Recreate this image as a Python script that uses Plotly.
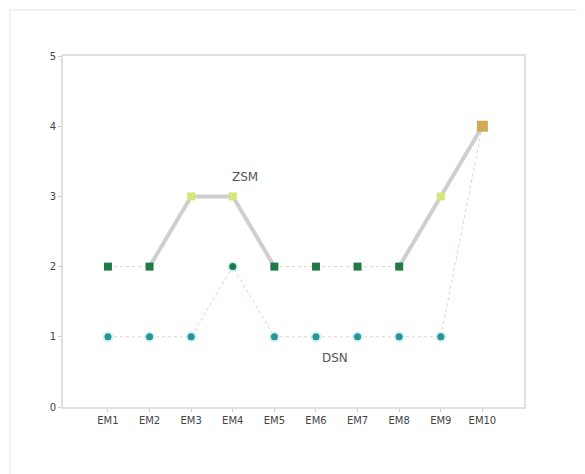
import plotly.graph_objects as go

categories = ["EM1", "EM2", "EM3", "EM4", "EM5", "EM6", "EM7", "EM8", "EM9", "EM10"]
upper_values = [2, 2, 3, 3, 2, 2, 2, 2, 3, 4]
lower_values = [1, 1, 1, 2, 1, 1, 1, 1, 1, 4]
y_ticks = [0, 1, 2, 3, 4, 5]
upper_label = "ZSM"
lower_label = "DSN"

value_colors = {1: "#2b9298", 2: "#217a45", 3: "#d6e77a", 4: "#d2aa55"}

x_idx = list(range(len(categories)))

# thick grey segments where the upper series touches a value >= 3
gray_y = []
for i, v in enumerate(upper_values):
    near = [upper_values[j] for j in (i - 1, i, i + 1) if 0 <= j < len(upper_values)]
    gray_y.append(v if max(near) >= 3 else None)

fig = go.Figure()

fig.add_trace(go.Scatter(
    x=x_idx, y=lower_values, mode="lines",
    line=dict(color="#eec9c9", width=1, dash="dot"),
    hoverinfo="skip", showlegend=False))
fig.add_trace(go.Scatter(
    x=x_idx, y=upper_values, mode="lines",
    line=dict(color="#eec9c9", width=1, dash="dot"),
    hoverinfo="skip", showlegend=False))
fig.add_trace(go.Scatter(
    x=x_idx, y=gray_y, mode="lines", connectgaps=False,
    line=dict(color="#cfcfcf", width=4),
    hoverinfo="skip", showlegend=False))

fig.add_trace(go.Scatter(
    x=x_idx[:-1], y=lower_values[:-1], mode="markers",
    marker=dict(size=11, color="rgba(180,235,240,0.6)", line=dict(width=0)),
    hoverinfo="skip", showlegend=False))
fig.add_trace(go.Scatter(
    x=x_idx[:-1], y=lower_values[:-1], mode="markers",
    marker=dict(size=7, color=[value_colors[v] for v in lower_values[:-1]],
                symbol="circle", line=dict(width=0), opacity=1),
    showlegend=False))

fig.add_trace(go.Scatter(
    x=x_idx, y=upper_values, mode="markers",
    marker=dict(size=[8 if v < 4 else 11 for v in upper_values],
                color=[value_colors[v] for v in upper_values],
                symbol="square", line=dict(width=0), opacity=1),
    showlegend=False))

fig.add_annotation(x=3.3, y=3.27, text=upper_label, showarrow=False,
                   font=dict(size=12, color="#555555", family="DejaVu Sans"))
fig.add_annotation(x=5.45, y=0.7, text=lower_label, showarrow=False,
                   font=dict(size=12, color="#555555", family="DejaVu Sans"))

L, T, W, H = 55, 48, 461, 351
fig.add_shape(type="rect", xref="paper", yref="paper",
              x0=(2 - L) / W, x1=(576 - L) / W,
              y0=-0.3, y1=(T + H - 2) / H,
              line=dict(color="#e4e4e4", width=1), fillcolor="rgba(0,0,0,0)")

fig.update_layout(
    width=585, height=474,
    margin=dict(l=L, r=585 - L - W, t=T, b=474 - T - H),
    paper_bgcolor="white", plot_bgcolor="white",
    font=dict(family="DejaVu Sans", size=10, color="#333333"),
    xaxis=dict(range=[-1.08, 10.0], tickmode="array", tickvals=x_idx,
               ticktext=categories, showgrid=False, zeroline=False,
               showline=True, linecolor="#e0e0e0", linewidth=2, mirror=True,
               ticks="outside", ticklen=3, tickcolor="#cccccc",
               tickfont=dict(size=10, color="#444444")),
    yaxis=dict(range=[0, 5], tickmode="array", tickvals=y_ticks,
               showgrid=False, zeroline=False,
               showline=True, linecolor="#e0e0e0", linewidth=2, mirror=True,
               ticks="outside", ticklen=3, tickcolor="#cccccc",
               tickfont=dict(size=10, color="#444444")),
)

fig.write_html("out.html")
